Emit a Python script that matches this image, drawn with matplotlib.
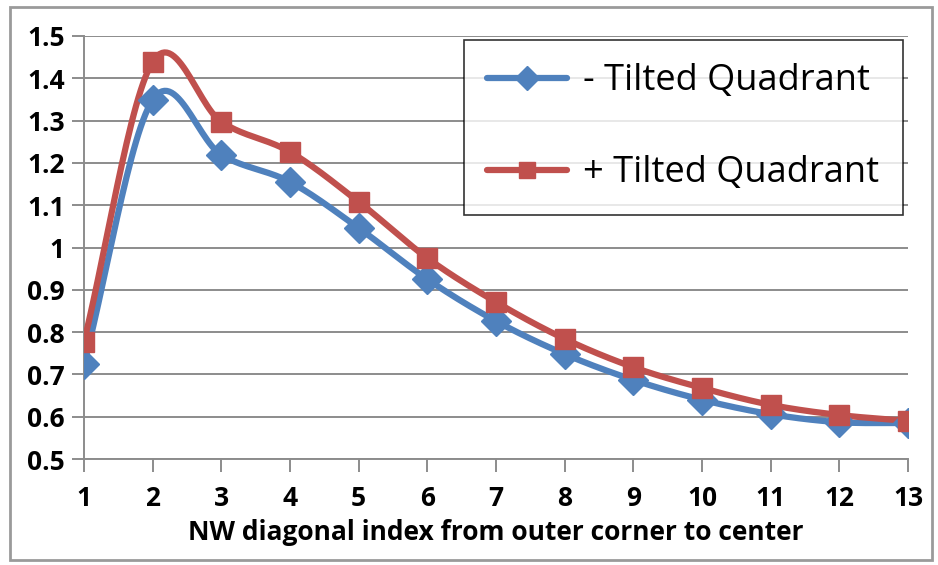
import numpy as np
import matplotlib
matplotlib.use("Agg")
import matplotlib.pyplot as plt
from matplotlib.patches import Rectangle

# values
diag_index = [1, 2, 3, 4, 5, 6, 7, 8, 9, 10, 11, 12, 13]
minus_tilted = [0.724, 1.349, 1.219, 1.155, 1.046, 0.925, 0.826, 0.748,
                0.687, 0.640, 0.606, 0.587, 0.585]
plus_tilted = [0.777, 1.439, 1.297, 1.226, 1.108, 0.975, 0.871, 0.784,
               0.717, 0.668, 0.628, 0.604, 0.590]
y_ticks = [0.5, 0.6, 0.7, 0.8, 0.9, 1.0, 1.1, 1.2, 1.3, 1.4, 1.5]
y_tick_labels = ["0.5", "0.6", "0.7", "0.8", "0.9", "1", "1.1", "1.2", "1.3", "1.4", "1.5"]

BLUE = "#4F81BD"
RED = "#C0504D"
GRID = "#8c8c8c"


def smooth(x, y, n=30):
    """Catmull-Rom curve through the points, like Excel's smoothed line."""
    x = np.asarray(x, float)
    y = np.asarray(y, float)
    px = np.concatenate([[2 * x[0] - x[1]], x, [2 * x[-1] - x[-2]]])
    py = np.concatenate([[2 * y[0] - y[1]], y, [2 * y[-1] - y[-2]]])
    t = np.linspace(0, 1, n)[:, None]
    xs, ys = [], []
    for i in range(1, len(px) - 2):
        for p, out in ((px, xs), (py, ys)):
            p0, p1, p2, p3 = p[i - 1], p[i], p[i + 1], p[i + 2]
            seg = 0.5 * (2 * p1 + (-p0 + p2) * t
                         + (2 * p0 - 5 * p1 + 4 * p2 - p3) * t ** 2
                         + (-p0 + 3 * p1 - 3 * p2 + p3) * t ** 3)
            out.append(seg.ravel())
    return np.concatenate(xs), np.concatenate(ys)


plt.rcParams["font.family"] = ["Open Sans", "DejaVu Sans"]

fig = plt.figure(figsize=(9.38, 5.65), dpi=100)
ax = fig.add_axes([84 / 938, 1 - 459 / 565, (908 - 84) / 938, (459 - 36) / 565])

for vals, col, mk, ms, lab in ((minus_tilted, BLUE, "D", 15, "- Tilted Quadrant"),
                               (plus_tilted, RED, "s", 14, "+ Tilted Quadrant")):
    sx, sy = smooth(diag_index, vals)
    ax.plot(sx, sy, color=col, lw=4.5, solid_capstyle="round", zorder=3)
    ax.plot(diag_index, vals, ls="none", marker=mk, ms=ms, color=col, zorder=4)
    ax.plot([], [], color=col, lw=4.5, marker=mk, ms=ms * 0.8, label=lab,
            solid_capstyle="round")

ax.set_xlim(1, 13)
ax.set_ylim(0.5, 1.5)
ax.set_xticks(diag_index)
ax.set_yticks(y_ticks)
ax.set_yticklabels(y_tick_labels)
ax.yaxis.grid(True, color=GRID, lw=1.4)
ax.set_axisbelow(True)
for side in ("top", "right"):
    ax.spines[side].set_visible(False)
for side in ("left", "bottom"):
    ax.spines[side].set_color(GRID)
    ax.spines[side].set_linewidth(1.4)
ax.tick_params(axis="both", colors=GRID, width=1.4, length=9, labelcolor="black",
               labelsize=19)
ax.tick_params(axis="x", pad=10)
ax.tick_params(axis="y", pad=5)
for lbl in ax.get_xticklabels() + ax.get_yticklabels():
    lbl.set_fontweight("bold")
ax.set_xlabel("NW diagonal index from outer corner to center", fontsize=19,
              fontweight="bold", labelpad=5)

leg = ax.legend(loc="upper left", bbox_to_anchor=((464 - 84) / 824, (459 - 40) / 423),
                fontsize=26, frameon=True, fancybox=False, handlelength=2.2,
                borderpad=0.65, labelspacing=1.55, handletextpad=0.45,
                borderaxespad=0)
leg.get_frame().set_edgecolor("black")
leg.get_frame().set_linewidth(1.2)

# thin grey frame around the whole chart
fig.patches.append(Rectangle((10 / 938, 5 / 565), 922 / 938, 553 / 565,
                             transform=fig.transFigure, fill=False,
                             edgecolor="#9a9a9a", lw=2))

fig.savefig("out.png", dpi=100)
